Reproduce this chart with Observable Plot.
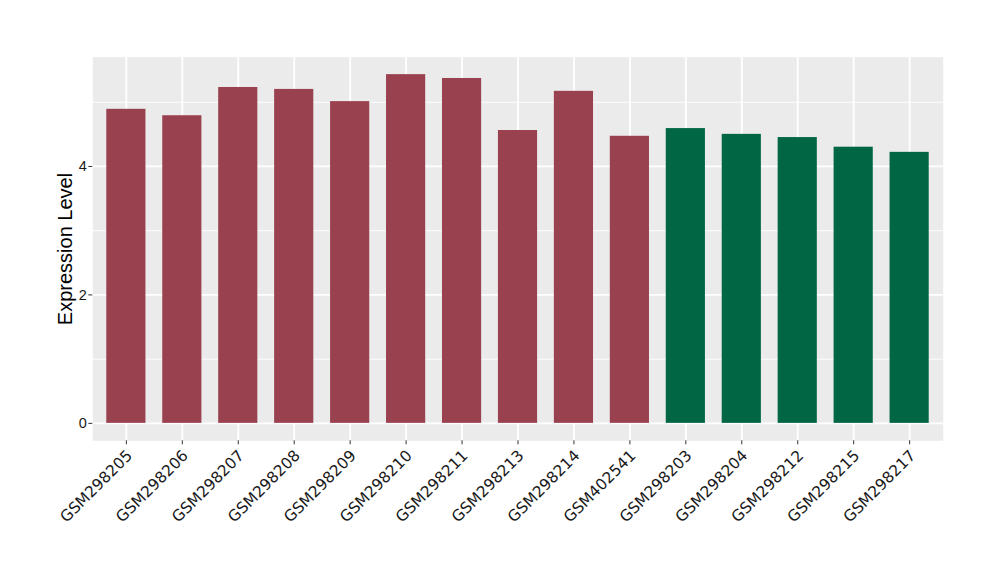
<!DOCTYPE html>
<html>
<head>
<meta charset="utf-8">
<script src="https://cdn.jsdelivr.net/npm/d3@7"></script>
<script src="https://cdn.jsdelivr.net/npm/@observablehq/plot@0.6"></script>
<style>
  html, body { margin: 0; padding: 0; background: #ffffff; }
  #chart svg { display: block; }
</style>
</head>
<body>
<div id="chart"></div>
<script>
const samples = ["GSM298205","GSM298206","GSM298207","GSM298208","GSM298209","GSM298210","GSM298211","GSM298213","GSM298214","GSM402541","GSM298203","GSM298204","GSM298212","GSM298215","GSM298217"];
const values = [4.89, 4.79, 5.23, 5.20, 5.01, 5.43, 5.37, 4.56, 5.17, 4.47, 4.59, 4.50, 4.45, 4.30, 4.22];
const groups = ["A","A","A","A","A","A","A","A","A","A","B","B","B","B","B"];
const groupNames = ["A","B"];
const groupColors = ["#9A4150","#006643"];
const yMajorTicks = [0, 2, 4];
const yMinorTicks = [1, 3, 5];
const yTitle = "Expression Level";

const data = samples.map((s, i) => ({sample: s, value: values[i], group: groups[i]}));

const vmax = d3.max(values);
const pad = vmax * 0.05;

const chart = Plot.plot({
  width: 1000,
  height: 580,
  marginLeft: 92.3,
  marginRight: 57.3,
  marginTop: 56.7,
  marginBottom: 139.7,
  style: {background: "#ffffff", fontFamily: "'Liberation Sans', Arial, sans-serif"},
  x: {domain: samples, paddingInner: 0.3, paddingOuter: 0.25, round: false, label: null},
  y: {domain: [0 - pad, vmax + pad], label: null},
  color: {domain: groupNames, range: groupColors},
  marks: [
    Plot.frame({fill: "#EBEBEB", stroke: null}),
    Plot.ruleY(yMinorTicks, {stroke: "#ffffff", strokeWidth: 0.9}),
    Plot.ruleY(yMajorTicks, {stroke: "#ffffff", strokeWidth: 1.8}),
    Plot.ruleX(samples, {x: d => d, stroke: "#ffffff", strokeWidth: 1.8}),
    Plot.barY(data, {x: "sample", y: "value", fill: "group"}),
    Plot.axisY({ticks: yMajorTicks, tickSize: 4, stroke: "#333", tickFormat: () => "", label: null}),
    Plot.axisX({tickSize: 4, stroke: "#333", tickFormat: () => "", label: null}),
    Plot.text(yMajorTicks, {
      y: d => d,
      text: d => String(d),
      frameAnchor: "left",
      textAnchor: "end",
      dx: -6,
      fontSize: 14.5,
      fontFamily: "'Liberation Sans', Arial, sans-serif",
      fill: "#1a1a1a"
    }),
    Plot.text(samples, {
      x: d => d,
      text: d => d,
      frameAnchor: "bottom",
      dx: -1,
      dy: 8,
      rotate: -45,
      textAnchor: "end",
      lineAnchor: "top",
      fontSize: 15.5,
      fontFamily: "'DejaVu Sans', sans-serif",
      fill: "#1a1a1a"
    }),
    Plot.text([yTitle], {frameAnchor: "left", textAnchor: "middle", lineAnchor: "middle", dx: -27, rotate: -90, fontSize: 20, fill: "#000", text: d => d})
  ]
});

document.getElementById("chart").appendChild(chart);
</script>
</body>
</html>
